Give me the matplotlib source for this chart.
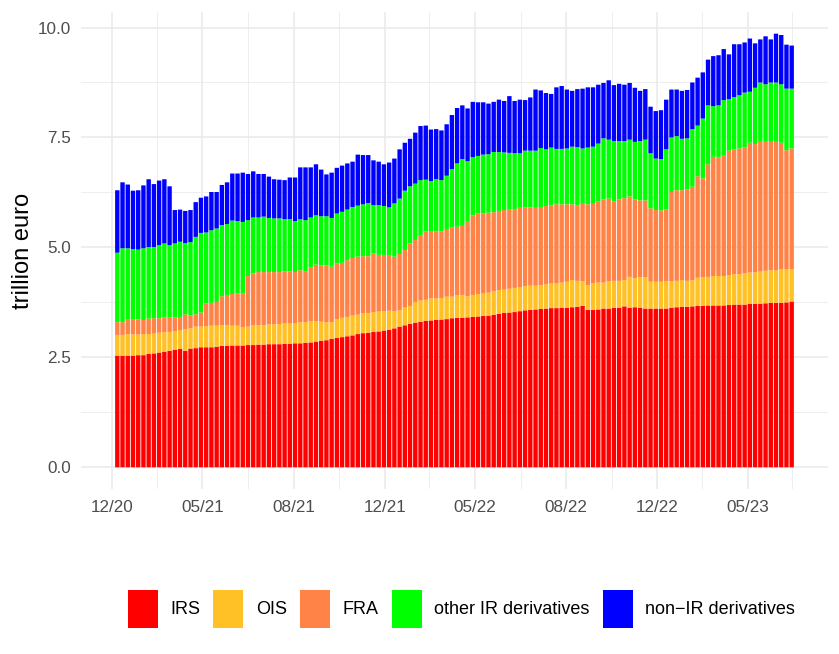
import numpy as np
import pandas as pd
import matplotlib
matplotlib.use("Agg")
import matplotlib.pyplot as plt
import matplotlib.dates as mdates
from matplotlib.patches import Patch

plt.rcParams["font.family"] = ["Liberation Sans", "DejaVu Sans"]

# weekly observations, trillion euro
weeks = pd.date_range("2021-01-07", periods=130, freq="7D")

irs = [2.54, 2.54, 2.54, 2.54, 2.55, 2.55, 2.58, 2.59, 2.61, 2.63, 2.65, 2.67, 2.69, 2.65, 2.70, 2.71, 2.73, 2.73, 2.73, 2.74, 2.76,
       2.76, 2.77, 2.77, 2.77, 2.78, 2.78, 2.79, 2.79, 2.80,
       2.80, 2.80, 2.81, 2.81, 2.82, 2.82, 2.83, 2.84, 2.86, 2.88, 2.89, 2.92, 2.94, 2.96, 2.98, 3.00, 3.03, 3.05, 3.06, 3.08,
       3.09, 3.11, 3.13, 3.16, 3.20, 3.23, 3.26, 3.29, 3.31, 3.33, 3.34, 3.35, 3.36, 3.37, 3.39,
       3.40, 3.40, 3.41, 3.42, 3.43, 3.44, 3.45, 3.47, 3.49, 3.51, 3.52, 3.53, 3.55, 3.57, 3.58, 3.59, 3.60, 3.61, 3.62, 3.62, 3.63, 3.63, 3.64, 3.65, 3.67,
       3.58, 3.58, 3.59, 3.61, 3.61, 3.63, 3.63, 3.66, 3.63, 3.64, 3.63, 3.61, 3.61, 3.61, 3.61, 3.61, 3.63, 3.64, 3.65,
       3.65, 3.66, 3.67, 3.67, 3.68, 3.68, 3.68, 3.68, 3.69, 3.70, 3.70, 3.70, 3.72, 3.72, 3.72, 3.73, 3.74, 3.74, 3.74, 3.75, 3.77]

ois = [0.47, 0.47, 0.49, 0.48, 0.47, 0.48, 0.45, 0.45, 0.45, 0.44, 0.43, 0.43, 0.43, 0.49, 0.46, 0.49, 0.47, 0.48, 0.49, 0.48, 0.47,
       0.47, 0.45, 0.45, 0.41, 0.42, 0.45, 0.44, 0.44, 0.45, 0.45, 0.46, 0.46, 0.46, 0.45, 0.48, 0.47, 0.48, 0.46, 0.43, 0.41, 0.38, 0.43,
       0.44, 0.44, 0.45, 0.44, 0.45, 0.45, 0.45, 0.45, 0.44, 0.43, 0.39, 0.37, 0.40, 0.41, 0.47, 0.48, 0.48, 0.50, 0.49, 0.49, 0.51, 0.49,
       0.51, 0.52, 0.48, 0.50, 0.51, 0.51, 0.52, 0.54, 0.54, 0.53, 0.54, 0.55, 0.55, 0.55, 0.55, 0.54, 0.54, 0.55, 0.56, 0.56, 0.57, 0.59,
       0.62, 0.59, 0.56, 0.56, 0.60, 0.61, 0.59, 0.62, 0.61, 0.61, 0.60, 0.70, 0.66, 0.69, 0.71, 0.61, 0.61, 0.61, 0.62, 0.60, 0.60, 0.61,
       0.59, 0.59, 0.64, 0.65, 0.65, 0.67, 0.67, 0.67, 0.68, 0.69, 0.69, 0.71, 0.71, 0.71, 0.73, 0.74, 0.74, 0.74, 0.76, 0.75, 0.73]

fra = [0.29, 0.29, 0.34, 0.35, 0.34, 0.32, 0.35, 0.35, 0.33, 0.34, 0.32, 0.31, 0.30, 0.34, 0.29, 0.28, 0.32, 0.52, 0.52, 0.54, 0.66,
       0.67, 0.72, 0.73, 0.78, 1.15, 1.18, 1.21, 1.21, 1.19, 1.19, 1.18, 1.18, 1.18, 1.17, 1.18, 1.16, 1.23, 1.29, 1.28, 1.29, 1.26, 1.27,
       1.25, 1.29, 1.31, 1.32, 1.30, 1.29, 1.33, 1.29, 1.28, 1.25, 1.24, 1.28, 1.31, 1.42, 1.41, 1.49, 1.55, 1.53, 1.52, 1.51, 1.54, 1.57,
       1.56, 1.59, 1.71, 1.81, 1.83, 1.82, 1.82, 1.79, 1.80, 1.81, 1.81, 1.79, 1.80, 1.79, 1.78, 1.79, 1.78, 1.78, 1.77, 1.80, 1.78, 1.76,
       1.72, 1.72, 1.78, 1.84, 1.81, 1.84, 1.89, 1.88, 1.81, 1.85, 1.86, 1.83, 1.79, 1.75, 1.75, 1.67, 1.63, 1.62, 1.63, 2.03, 2.06, 2.04,
       2.08, 2.13, 2.31, 2.25, 2.56, 2.71, 2.70, 2.75, 2.83, 2.84, 2.86, 2.86, 2.95, 2.92, 2.95, 2.93, 2.94, 2.94, 2.88, 2.71, 2.75]

other_ir = [1.58, 1.68, 1.61, 1.59, 1.59, 1.63, 1.63, 1.62, 1.66, 1.68, 1.65, 1.68, 1.71, 1.62, 1.67, 1.76, 1.81, 1.61, 1.65, 1.67, 1.62,
            1.63, 1.67, 1.65, 1.62, 1.27, 1.27, 1.24, 1.26, 1.23, 1.22, 1.22, 1.19, 1.19, 1.16, 1.16, 1.16, 1.13, 1.12, 1.12, 1.12, 1.11, 1.13,
            1.16, 1.15, 1.16, 1.16, 1.18, 1.21, 1.10, 1.13, 1.11, 1.10, 1.21, 1.26, 1.35, 1.30, 1.28, 1.25, 1.18, 1.14, 1.19, 1.17, 1.21, 1.33,
            1.44, 1.50, 1.36, 1.32, 1.31, 1.34, 1.33, 1.37, 1.34, 1.31, 1.28, 1.27, 1.24, 1.29, 1.29, 1.28, 1.34, 1.29, 1.32, 1.26, 1.26, 1.27,
            1.31, 1.32, 1.24, 1.29, 1.30, 1.32, 1.39, 1.34, 1.37, 1.33, 1.30, 1.29, 1.31, 1.35, 1.38, 1.25, 1.17, 1.17, 1.37, 1.24, 1.23, 1.17,
            1.16, 1.31, 1.15, 1.36, 1.34, 1.15, 1.18, 1.25, 1.17, 1.19, 1.21, 1.25, 1.16, 1.28, 1.35, 1.31, 1.33, 1.33, 1.33, 1.40, 1.36]

non_ir = [1.42, 1.50, 1.45, 1.33, 1.35, 1.43, 1.54, 1.43, 1.47, 1.46, 1.34, 0.76, 0.73, 0.73, 0.73, 0.79, 0.80, 0.82, 0.87, 0.83, 0.91,
          0.95, 1.07, 1.08, 1.12, 1.05, 1.05, 0.99, 0.97, 0.94, 0.89, 0.88, 0.89, 0.95, 0.99, 1.18, 1.20, 1.14, 1.16, 1.06, 0.95, 1.03, 1.04,
          1.05, 1.05, 1.03, 1.16, 1.12, 1.09, 1.02, 0.99, 0.95, 1.02, 1.02, 1.12, 1.09, 1.08, 1.16, 1.23, 1.23, 1.17, 1.14, 1.13, 1.17, 1.23,
          1.26, 1.22, 1.20, 1.26, 1.22, 1.19, 1.15, 1.14, 1.19, 1.17, 1.29, 1.19, 1.22, 1.15, 1.21, 1.39, 1.31, 1.28, 1.22, 1.40, 1.43, 1.34,
          1.27, 1.32, 1.36, 1.37, 1.35, 1.34, 1.26, 1.35, 1.27, 1.30, 1.28, 1.29, 1.23, 1.14, 1.15, 1.06, 1.08, 1.11, 1.13, 1.09, 1.06, 1.09,
          1.10, 1.06, 1.09, 1.05, 1.04, 1.14, 1.14, 1.16, 1.02, 1.20, 1.16, 1.14, 1.21, 1.01, 0.98, 1.09, 0.98, 1.11, 1.12, 1.00, 0.98]

labels = ["IRS", "OIS", "FRA", "other IR derivatives", "non\u2212IR derivatives"]
colors = ["#FF0000", "#FFC125", "#FF8247", "#00FF00", "#0000FF"]

tick_dates = ["2020-12-31", "2021-05-01", "2021-08-31", "2021-12-31",
              "2022-05-01", "2022-08-31", "2022-12-31", "2023-05-01"]
tick_labels = ["12/20", "05/21", "08/21", "12/21", "05/22", "08/22", "12/22", "05/23"]
minor_dates = ["2021-03-01", "2021-07-01", "2021-10-31", "2022-03-01",
               "2022-07-01", "2022-10-31", "2023-03-01", "2023-06-30"]

fig = plt.figure(figsize=(8.39, 6.54), dpi=100)
ax = fig.add_axes([81 / 839, 1 - 489 / 654, 747 / 839, 477 / 654])

x = mdates.date2num(weeks)
width = 0.84 * 7
bottom = np.zeros(len(x))
for vals, col in zip([irs, ois, fra, other_ir, non_ir], colors):
    ax.bar(x, vals, width=width, bottom=bottom, color=col, linewidth=0, snap=False)
    bottom += np.array(vals)

span = x[-1] - x[0] + 0.9 * 7
ax.set_xlim(x[0] - 0.45 * 7 - 0.05 * span, x[-1] + 0.45 * 7 + 0.05 * span)
ax.set_ylim(-0.05 * bottom.max(), 1.05 * bottom.max())

ax.set_xticks(mdates.date2num(pd.to_datetime(tick_dates)))
ax.set_xticklabels(tick_labels)
ax.set_xticks(mdates.date2num(pd.to_datetime(minor_dates)), minor=True)
ax.set_yticks([0, 2.5, 5, 7.5, 10])
ax.set_yticklabels(["0.0", "2.5", "5.0", "7.5", "10.0"])
ax.set_yticks([1.25, 3.75, 6.25, 8.75], minor=True)

ax.set_axisbelow(True)
ax.grid(which="major", color="#EBEBEB", linewidth=1.2)
ax.grid(which="minor", color="#EBEBEB", linewidth=0.6)
for s in ax.spines.values():
    s.set_visible(False)
ax.tick_params(which="both", length=0, labelsize=12.3, labelcolor="#4D4D4D")
ax.tick_params(axis="y", pad=7)
ax.tick_params(axis="x", pad=8)
ax.set_ylabel("trillion euro", fontsize=17, labelpad=3)

handles = [Patch(facecolor=c, edgecolor="none") for c in colors]
fig.legend(handles, labels, loc="center", bbox_to_anchor=(0.55, 0.069), ncol=5,
           frameon=False, fontsize=13, handlelength=1.66, handleheight=2.8,
           handletextpad=0.7, columnspacing=0.72)

fig.savefig("out.png", dpi=100)
